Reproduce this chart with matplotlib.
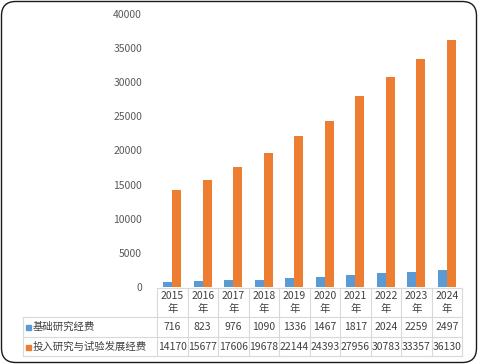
import matplotlib
matplotlib.use("Agg")
import matplotlib.pyplot as plt
from matplotlib.patches import FancyBboxPatch, Rectangle
import numpy as np

plt.rcParams['font.family'] = ['Noto Sans CJK SC', 'DejaVu Sans']

years = ['2015', '2016', '2017', '2018', '2019', '2020', '2021', '2022', '2023', '2024']
basic = [716, 823, 976, 1090, 1336, 1467, 1817, 2024, 2259, 2497]
total = [14170, 15677, 17606, 19678, 22144, 24393, 27956, 30783, 33357, 36130]
series_names = ['基础研究经费', '投入研究与试验发展经费']
colors = ['#5B9BD5', '#ED7D31']

W, H = 478, 364
fig = plt.figure(figsize=(W / 100, H / 100), dpi=100)

def fx(px):
    return px / W

def fy(py):
    return 1 - py / H

ax_left, ax_right, ax_top, ax_bot = 157, 462, 14, 287
ax = fig.add_axes([fx(ax_left), fy(ax_bot), fx(ax_right - ax_left), (ax_bot - ax_top) / H])
x = np.arange(len(years))
bw = 0.29
ax.bar(x - bw / 2, basic, bw, color=colors[0])
ax.bar(x + bw / 2, total, bw, color=colors[1])
ax.set_xlim(-0.5, len(years) - 0.5)
ax.set_ylim(0, 40000)
ax.set_yticks(range(0, 40001, 5000))
ax.tick_params(axis='y', length=0, labelsize=7.5, labelcolor='#595959', pad=10.8)
ax.set_xticks([])
for s in ax.spines.values():
    s.set_visible(False)
ax.patch.set_alpha(0)

# table
grid_c = '#D9D9D9'
row_y = [288, 317, 337, 356]
col_x = [ax_left + (ax_right - ax_left) * i / len(years) for i in range(len(years) + 1)]
tleft = 23
lw = 0.8
fig.add_artist(plt.Line2D([fx(col_x[0]), fx(col_x[-1])], [fy(row_y[0])] * 2, color=grid_c, lw=lw))
for ry in row_y[1:]:
    fig.add_artist(plt.Line2D([fx(tleft), fx(col_x[-1])], [fy(ry)] * 2, color=grid_c, lw=lw))
for cx in col_x:
    fig.add_artist(plt.Line2D([fx(cx)] * 2, [fy(row_y[0]), fy(row_y[-1])], color=grid_c, lw=lw))
fig.add_artist(plt.Line2D([fx(tleft)] * 2, [fy(row_y[1]), fy(row_y[-1])], color=grid_c, lw=lw))

tc = '#404040'
fs = 7.5
for i, yr in enumerate(years):
    cx = (col_x[i] + col_x[i + 1]) / 2
    fig.text(fx(cx), fy(296), yr, ha='center', va='center', fontsize=fs, color=tc)
    fig.text(fx(cx), fy(309), '年', ha='center', va='center', fontsize=fs, color=tc)
    fig.text(fx(cx), fy(327), str(basic[i]), ha='center', va='center', fontsize=fs, color=tc)
    fig.text(fx(cx), fy(346.5), str(total[i]), ha='center', va='center', fontsize=fs, color=tc)

for j, (name, c) in enumerate(zip(series_names, colors)):
    cy = 327 if j == 0 else 346.5
    fig.add_artist(Rectangle((fx(26), fy(cy + 3)), fx(5), 5 / H, color=c, transform=fig.transFigure))
    fig.text(fx(33), fy(cy), name, ha='left', va='center', fontsize=fs, color=tc)

border = FancyBboxPatch((fx(1.5), fy(362.5)), fx(475), 361 / H,
                        boxstyle='round,pad=0,rounding_size=0.03',
                        transform=fig.transFigure, fill=False, edgecolor='#1a1a1a', lw=1.0,
                        mutation_aspect=W / H)
fig.add_artist(border)

fig.savefig('out.png', dpi=100)
